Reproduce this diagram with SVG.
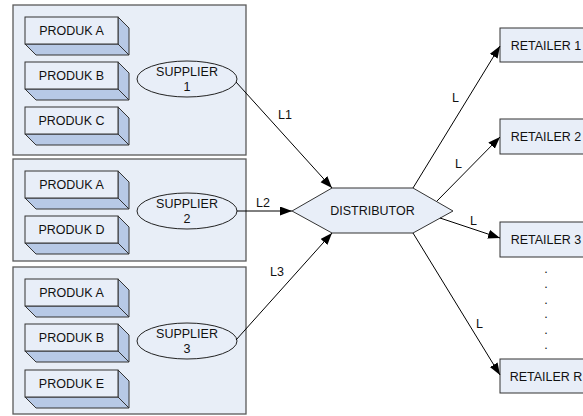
<svg xmlns="http://www.w3.org/2000/svg" width="583" height="416" viewBox="0 0 583 416">
<style>
.grp{fill:#e8eef7;stroke:#5a5a5a;stroke-width:1.3}
.front{fill:#e8eef8;stroke:#333;stroke-width:1}
.side{fill:#b7c9e6;stroke:#333;stroke-width:1}
.ell{fill:#e8eef8;stroke:#222;stroke-width:1}
.box{fill:#e8eef8;stroke:#333;stroke-width:1}
.t{font-family:"Liberation Sans",Arial,sans-serif;font-size:12.5px;fill:#111;text-anchor:middle}
.lb{font-family:"Liberation Sans",Arial,sans-serif;font-size:12.5px;fill:#111}
.con{stroke:#000;stroke-width:1;fill:none;marker-end:url(#ah)}
</style>
<defs>
<marker id="ah" markerUnits="userSpaceOnUse" markerWidth="13" markerHeight="10" refX="12" refY="4.5" orient="auto">
<path d="M0,0 L12,4.5 L0,9 Z" fill="#000"/>
</marker>
<g id="prod">
<polygon class="side" points="93,0 104,11 104,38 93,27"/>
<polygon class="side" points="0,27 93,27 104,38 11,38"/>
<rect class="front" x="0" y="0" width="93" height="27"/>
</g>
</defs>

<g id="supplier1-group">
<rect class="grp" x="13" y="5" width="233" height="150"/>
</g>
<g id="supplier2-group">
<rect class="grp" x="13" y="159" width="233" height="102"/>
</g>
<g id="supplier3-group">
<rect class="grp" x="13" y="267" width="233" height="147"/>
</g>

<g id="p1a"><use href="#prod" x="25" y="17"/><text class="t" x="71.5" y="35">PRODUK A</text></g>
<g id="p1b"><use href="#prod" x="25" y="62"/><text class="t" x="71.5" y="80">PRODUK B</text></g>
<g id="p1c"><use href="#prod" x="25" y="107"/><text class="t" x="71.5" y="125">PRODUK C</text></g>
<g id="p2a"><use href="#prod" x="25" y="171"/><text class="t" x="71.5" y="189">PRODUK A</text></g>
<g id="p2d"><use href="#prod" x="25" y="216"/><text class="t" x="71.5" y="234">PRODUK D</text></g>
<g id="p3a"><use href="#prod" x="25" y="279"/><text class="t" x="71.5" y="297">PRODUK A</text></g>
<g id="p3b"><use href="#prod" x="25" y="324"/><text class="t" x="71.5" y="342">PRODUK B</text></g>
<g id="p3e"><use href="#prod" x="25" y="370"/><text class="t" x="71.5" y="388">PRODUK E</text></g>

<g id="supplier1"><ellipse class="ell" cx="187" cy="79" rx="50" ry="18"/><text class="t" x="187" y="76">SUPPLIER</text><text class="t" x="187" y="91">1</text></g>
<g id="supplier2"><ellipse class="ell" cx="187" cy="211" rx="50" ry="18"/><text class="t" x="187" y="208">SUPPLIER</text><text class="t" x="187" y="223">2</text></g>
<g id="supplier3"><ellipse class="ell" cx="187" cy="341" rx="50" ry="18"/><text class="t" x="187" y="338">SUPPLIER</text><text class="t" x="187" y="353">3</text></g>

<g id="distributor"><polygon class="box" points="332,188 413,188 453,211 413,233 332,233 292,211"/><text class="t" x="372.5" y="215">DISTRIBUTOR</text></g>

<g id="retailer1"><rect class="box" x="500" y="28" width="92" height="34"/><text class="t" x="546" y="50">RETAILER 1</text></g>
<g id="retailer2"><rect class="box" x="500" y="119" width="92" height="35"/><text class="t" x="546" y="141">RETAILER 2</text></g>
<g id="retailer3"><rect class="box" x="500" y="222" width="92" height="35"/><text class="t" x="546" y="244">RETAILER 3</text></g>
<g id="retailerR"><rect class="box" x="500" y="359" width="92" height="34"/><text class="t" x="546" y="381">RETAILER R</text></g>

<g id="dots">
<text class="t" x="546" y="273">.</text>
<text class="t" x="546" y="288">.</text>
<text class="t" x="546" y="304">.</text>
<text class="t" x="546" y="318">.</text>
<text class="t" x="546" y="334">.</text>
<text class="t" x="546" y="349">.</text>
</g>

<g id="connectors">
<line class="con" x1="236" y1="82" x2="332" y2="188"/>
<line class="con" x1="237" y1="211" x2="292" y2="211"/>
<line class="con" x1="236" y1="340" x2="332" y2="233"/>
<line class="con" x1="413" y1="188" x2="500" y2="46"/>
<line class="con" x1="437" y1="201" x2="500" y2="137"/>
<line class="con" x1="440" y1="218" x2="500" y2="238"/>
<line class="con" x1="413" y1="233" x2="500" y2="375"/>
<text class="lb" x="278" y="119">L1</text>
<text class="lb" x="256" y="207">L2</text>
<text class="lb" x="270" y="276">L3</text>
<text class="lb" x="452" y="102">L</text>
<text class="lb" x="455" y="168">L</text>
<text class="lb" x="470" y="225">L</text>
<text class="lb" x="476" y="328">L</text>
</g>
</svg>
